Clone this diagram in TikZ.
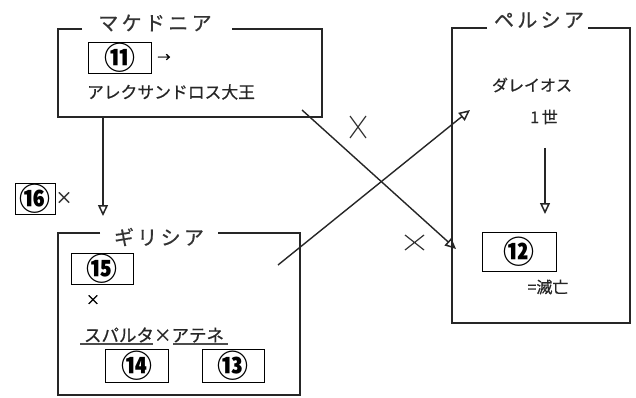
\documentclass[tikz,border=0pt]{standalone}
\usepackage{fontspec}
\newfontfamily\jp{Noto Sans CJK JP}
\newfontfamily\jpm[FakeBold=0.6]{Noto Sans CJK JP}
\usetikzlibrary{arrows.meta}
\begin{document}
\begin{tikzpicture}[x=1pt,y=-1pt,line width=1.3pt,
  frame/.style={draw=black!85,line width=1.6pt},
  conn/.style={draw=black!85,line width=1.4pt,-{Triangle[open,width=10pt,length=11pt,line width=1.5pt]}},
  title/.style={font=\jpm\fontsize{20}{20}\selectfont,text=black!80,inner sep=0pt},
  txt/.style={font=\jpm\fontsize{16}{16}\selectfont,text=black!85,inner sep=0pt},
  numbox/.style={draw=black,line width=0.9pt,minimum height=31pt,inner sep=0pt,font=\jp\bfseries\fontsize{31}{31}\selectfont},
  thinx/.style={font=\fontsize{24}{24}\selectfont\jp,text=black!80,inner sep=0pt}]
\useasboundingbox (0,0) rectangle (636,398);
\fill[white] (0,0) rectangle (636,398);
% Macedonia
\draw[frame] (82,29) -- (58,29) -- (58,117) -- (322,117) -- (322,29) -- (232,29);
\node[title] (tmac) at (155,23) {マ\,ケ\,ド\,ニ\,ア};
\node[numbox,minimum width=63pt] (n11) at (119.5,57.5) {⑪};
\node[font=\jpm\fontsize{13}{13}\selectfont,inner sep=0pt] (arr11) at (164,58) {→};
\node[txt,font=\jpm\fontsize{16.8}{16.8}\selectfont] (alex) at (171,92) {アレクサンドロス大王};
% Greece
\draw[frame] (100,233) -- (58,233) -- (58,395) -- (300,395) -- (300,233) -- (218,233);
\node[title] (tgre) at (159,237) {ギ\,リ\,シ\,ア};
\node[numbox,minimum width=62pt] (n15) at (102,268.5) {⑮};
\node[font=\jpm\fontsize{14}{14}\selectfont,inner sep=0pt] (x15) at (93,300) {×};
\node[txt,font=\jpm\fontsize{17.5}{17.5}\selectfont] (spa) at (154,335) {スパルタ×アテネ};
\draw[black!70,line width=1.3pt] (80,344) -- (153,344);
\draw[black!70,line width=1.3pt] (173,344) -- (228,344);
\node[numbox,minimum width=63pt,minimum height=33pt] (n14) at (136.5,365.5) {⑭};
\node[numbox,minimum width=62pt,minimum height=33pt] (n13) at (233,365.5) {⑬};
% left box 16
\node[numbox,minimum width=40pt] (n16) at (35,198.5) {⑯};
\node[font=\jpm\fontsize{17}{17}\selectfont,text=black!80,inner sep=0pt] (x16) at (64,198) {×};
% Persia
\draw[frame] (487,28) -- (452,28) -- (452,323) -- (630,323) -- (630,28) -- (588,28);
\node[title] (tper) at (539,20) {ペ\,ル\,シ\,ア};
\node[txt] (dar) at (532,85) {ダレイオス};
\node[txt] (dar2) at (544,117) {1\,世};
\node[numbox,minimum width=74pt,minimum height=39pt] (n12) at (519,251.5) {⑫};
\node[txt] (metsu) at (548,287) {=滅亡};
% connectors
\coordinate (macbot) at (103,117);
\coordinate (gretop) at (103,216);
\draw[conn] (macbot) -- (gretop);
\coordinate (pa) at (545,148);
\coordinate (pb) at (545,214);
\draw[conn] (pa) -- (pb);
\coordinate (m1) at (302,110);
\coordinate (p1) at (456,249);
\draw[conn] (m1) -- (p1);
\coordinate (g1) at (278,265);
\coordinate (p2) at (470,110);
\draw[conn] (g1) -- (p2);
% crosses
\draw[black!80,line width=1.2pt] (350,116) -- (366,138) (366,116) -- (350,138);
\draw[black!80,line width=1.2pt] (405,235) -- (424,250) (424,235) -- (405,250);
\end{tikzpicture}
\end{document}
